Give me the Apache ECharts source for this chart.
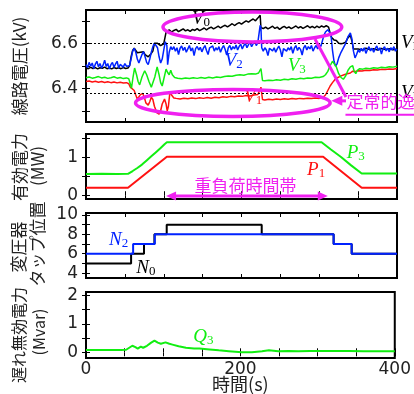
<!DOCTYPE html>
<html><head><meta charset="utf-8">
<script src="https://cdn.jsdelivr.net/npm/echarts@6/dist/echarts.min.js"></script>
<style>html,body{margin:0;padding:0;background:#fff}#c{width:414px;height:394px}</style>
</head><body><div id="c"></div>
<script>
// ---------------- data ----------------
const xLabels = [0, 200, 400];
const vTicks = [6.3, 6.4, 6.5, 6.6, 6.7], vLabels = [6.4, 6.6];
const pTicks = [0, 0.5, 1, 1.5], pLabels = [0, 1];
const nTicks = [4, 5, 6, 7, 8, 9, 10], nLabels = [4, 6, 8, 10];
const qTicks = [0, 0.5, 1, 1.5, 2], qLabels = [0, 1, 2];
const vLimits = [6.6, 6.38];

// line voltage V0 (black)
const V0 = [[0,6.49],[3,6.487],[6,6.493],[9,6.488],[12,6.492],[15,6.486],[18,6.491],[21,6.489],[24,6.494],[27,6.487],[30,6.49],[33,6.486],[36,6.492],[39,6.488],[42,6.491],[45,6.487],[48,6.492],[51,6.488],[54,6.49],
[56,6.50],[58,6.54],[60,6.568],[62,6.578],[64,6.57],[66,6.558],[68,6.552],[70,6.56],[72,6.566],[74,6.562],[76,6.55],[78,6.545],[80,6.54],[82,6.548],[84,6.555],[86,6.565],[88,6.60],[90,6.607],[92,6.60],[94,6.595],[96,6.59],[98,6.592],[100,6.598],[102,6.602],[103,6.65],[105,6.655],
[107,6.66],[110,6.65],[113,6.657],[116,6.662],[119,6.652],[122,6.658],[125,6.664],[128,6.655],[131,6.66],[134,6.653],[137,6.662],[140,6.657],[143,6.665],[146,6.656],[149,6.662],[152,6.668],[155,6.66],[158,6.667],[161,6.672],[164,6.664],[167,6.67],[170,6.676],[173,6.668],[176,6.675],[179,6.68],[182,6.673],[185,6.68],[188,6.687],[191,6.679],[194,6.686],[197,6.692],[200,6.685],[203,6.693],[206,6.7],[209,6.694],[212,6.702],[215,6.708],[218,6.70],[221,6.712],[223,6.718],[224,6.725],[225,6.67],
[228,6.665],[231,6.672],[234,6.664],[237,6.67],[240,6.676],[243,6.666],[246,6.672],[249,6.662],[252,6.67],[255,6.675],[258,6.667],[261,6.673],[264,6.665],[267,6.671],[270,6.677],[273,6.668],[276,6.674],[279,6.666],[282,6.672],[285,6.678],[288,6.669],[291,6.675],[294,6.668],[297,6.676],[300,6.67],[303,6.677],[306,6.672],[309,6.678],[312,6.672],
[314,6.645],[316,6.625],[319,6.615],[322,6.612],[325,6.60],[328,6.598],[331,6.60],[334,6.605],[337,6.625],[340,6.635],[342,6.61],[344,6.575],[346,6.572],
[350,6.575],[355,6.57],[360,6.578],[365,6.572],[370,6.576],[375,6.57],[380,6.577],[385,6.572],[390,6.576],[395,6.571],[400,6.575]];

// line voltage V2 (blue)
const V2 = [[0,6.505],[2,6.492],[4,6.515],[6,6.498],[8,6.512],[10,6.488],[12,6.507],[14,6.52],[16,6.495],[18,6.51],[20,6.49],[22,6.503],[24,6.525],[26,6.497],[28,6.51],[30,6.486],[32,6.505],[34,6.515],[36,6.493],[38,6.508],[40,6.52],[42,6.49],[44,6.506],[46,6.512],[48,6.494],[50,6.51],[52,6.498],[54,6.505],
[56,6.50],[58,6.53],[60,6.565],[62,6.578],[64,6.56],[66,6.53],[68,6.512],[70,6.52],[72,6.55],[74,6.563],[76,6.54],[78,6.515],[80,6.505],[82,6.53],[84,6.56],[86,6.585],[88,6.60],[90,6.605],[92,6.58],[94,6.54],[96,6.512],[98,6.53],[100,6.57],[102,6.607],[104,6.59],[105,6.505],[107,6.56],[109,6.585],
[111,6.572],[113,6.585],[115,6.565],[117,6.58],[119,6.55],[121,6.578],[123,6.588],[125,6.568],[127,6.582],[129,6.56],[131,6.575],[133,6.59],[135,6.566],[137,6.58],[139,6.545],[141,6.576],[143,6.586],[145,6.57],[147,6.582],[149,6.562],[151,6.578],[153,6.59],[155,6.568],[157,6.55],[159,6.58],[161,6.572],[163,6.588],[165,6.565],[167,6.58],[169,6.57],[171,6.585],[173,6.56],[175,6.578],[177,6.59],[179,6.572],[181,6.548],[183,6.58],[185,6.59],[187,6.57],[189,6.585],[191,6.575],[193,6.592],[195,6.57],[197,6.586],[199,6.596],[201,6.575],[203,6.59],[205,6.6],[207,6.58],[209,6.594],[211,6.605],[213,6.585],[215,6.598],[217,6.61],[219,6.59],[221,6.603],[223,6.605],[224,6.68],[225,6.67],[226,6.58],
[228,6.565],[230,6.58],[232,6.57],[234,6.545],[236,6.578],[238,6.586],[240,6.566],[242,6.58],[244,6.56],[246,6.575],[248,6.588],[250,6.57],[252,6.54],[254,6.576],[256,6.584],[258,6.565],[260,6.58],[262,6.57],[264,6.585],[266,6.555],[268,6.578],[270,6.59],[272,6.568],[274,6.582],[276,6.572],[278,6.548],[280,6.58],[282,6.59],[284,6.57],[286,6.585],[288,6.575],[290,6.59],[292,6.565],[294,6.58],[296,6.59],[298,6.575],[300,6.594],[302,6.585],[304,6.61],
[306,6.635],[308,6.65],[311,6.66],[313,6.668],[315,6.64],[317,6.57],[319,6.52],[321,6.498],[323,6.51],[325,6.535],[328,6.56],[331,6.58],[334,6.60],[337,6.63],[340,6.646],[342,6.62],[344,6.565],[346,6.535],[348,6.55],[350,6.57],
[352,6.56],[354,6.578],[356,6.565],[358,6.58],[360,6.555],[362,6.572],[364,6.585],[366,6.566],[368,6.578],[370,6.56],[372,6.576],[374,6.588],[376,6.568],[378,6.58],[380,6.552],[382,6.575],[384,6.585],[386,6.566],[388,6.578],[390,6.562],[392,6.58],[394,6.57],[396,6.585],[398,6.565],[400,6.575]];

// line voltage V1 (red)
const V1 = [[0,6.43],[4,6.432],[8,6.428],[12,6.431],[16,6.427],[20,6.43],[24,6.426],[28,6.429],[32,6.425],[36,6.428],[40,6.424],[44,6.427],[48,6.423],[52,6.425],[55,6.42],
[57,6.405],[59,6.398],[62,6.39],[64,6.37],[66,6.352],[68,6.358],[70,6.372],[73,6.377],[75,6.36],[77,6.335],[80,6.325],[82,6.34],[84,6.36],[86,6.35],[88,6.32],[91,6.292],[94,6.285],[96,6.30],[98,6.33],[101,6.352],[103,6.33],[104.5,6.30],[106,6.32],[108,6.385],[110,6.37],[113,6.357],
[116,6.355],[121,6.352],[126,6.356],[131,6.353],[136,6.357],[141,6.354],[146,6.358],[151,6.355],[156,6.359],[161,6.356],[166,6.36],[171,6.358],[176,6.362],[181,6.36],[186,6.364],[191,6.362],[196,6.366],[201,6.364],[206,6.368],[211,6.366],[216,6.37],[221,6.372],[223,6.375],[224,6.395],[225,6.405],[226,6.40],[227,6.35],
[230,6.348],[235,6.351],[240,6.349],[245,6.352],[250,6.35],[255,6.353],[260,6.351],[265,6.354],[270,6.352],[275,6.355],[280,6.353],[285,6.356],[290,6.354],[295,6.357],[300,6.355],[305,6.36],
[308,6.37],[311,6.39],[314,6.41],[317,6.425],[320,6.438],[324,6.448],[328,6.455],[332,6.46],[336,6.465],[340,6.468],[343,6.476],[345,6.482],[347,6.475],[350,6.478],
[355,6.477],[360,6.48],[365,6.479],[370,6.482],[375,6.481],[380,6.484],[385,6.483],[390,6.486],[395,6.485],[400,6.488]];

// line voltage V3 (green)
const V3 = [[0,6.447],[4,6.45],[8,6.445],[12,6.448],[16,6.452],[20,6.446],[24,6.449],[28,6.444],[32,6.447],[36,6.451],[40,6.445],[44,6.448],[48,6.443],[52,6.446],[55,6.442],
[57,6.42],[58.5,6.40],[60.5,6.45],[62.5,6.49],[65,6.46],[67,6.43],[69,6.415],[72,6.45],[75.5,6.478],[78,6.46],[81,6.43],[84,6.405],[86,6.40],[88.5,6.45],[91.5,6.495],[94,6.46],[96,6.425],[98,6.41],[100,6.44],[103,6.485],[105,6.47],[107,6.46],[109,6.48],[111,6.46],[114,6.448],
[118,6.445],[123,6.442],[128,6.446],[133,6.443],[138,6.447],[143,6.444],[148,6.448],[153,6.445],[158,6.449],[163,6.446],[168,6.45],[173,6.448],[178,6.452],[183,6.455],[188,6.453],[193,6.458],[198,6.46],[203,6.458],[208,6.463],[213,6.465],[218,6.463],[222,6.468],[224,6.47],[225,6.488],[226,6.485],[227,6.435],
[230,6.433],[235,6.436],[240,6.434],[245,6.438],[250,6.436],[255,6.44],[260,6.438],[265,6.442],[270,6.44],[275,6.444],[280,6.442],[285,6.446],[290,6.445],[295,6.449],[300,6.448],[305,6.452],
[308,6.46],[311,6.475],[314,6.50],[317,6.52],[319,6.525],[322,6.495],[325,6.465],[328,6.448],[331,6.44],[334,6.455],[337,6.48],[340,6.495],[343,6.50],[345,6.475],[347,6.465],[349,6.48],[352,6.487],
[356,6.485],[360,6.489],[365,6.487],[370,6.491],[375,6.489],[380,6.493],[385,6.491],[390,6.496],[395,6.494],[400,6.498]];

// active power
const P3 = [[0,0.56],[20,0.565],[40,0.56],[54,0.565],[60,0.64],[66,0.72],[72,0.81],[78,0.92],[84,1.03],[90,1.14],[96,1.25],[101,1.35],[104,1.40],[150,1.405],[200,1.40],[250,1.405],[303,1.40],[315,1.21],[328,1.01],[341,0.79],[354.6,0.575],[400,0.575]];
const P1 = [[0,0.2],[54,0.2],[104,1.02],[305,1.02],[354.6,0.2],[400,0.2]];

// tap positions (value holds from t until next point)
const N0 = [[0,5],[58,6],[74.6,7],[88,8],[103.8,9],[226,8],[318.5,7],[341.7,6],[400,6]];
const N2 = [[0,6],[60.6,7],[88.5,8],[318.5,7],[341.7,6],[400,6]];

// lagging reactive power
const Q3 = [[0,0.08],[15,0.085],[30,0.08],[45,0.085],[52,0.09],[56,0.16],[60,0.23],[64,0.18],[67,0.13],[71,0.2],[74,0.16],[79,0.23],[84,0.33],[88.7,0.41],[93,0.34],[97,0.30],[103,0.35],[108,0.3],[112,0.27],[120,0.21],[129.5,0.16],[140,0.13],[147,0.13],[160,0.1],[172,0.07],[185,0.04],[202,0.0],[215,0.0],[228,0.04],[237,0.07],[249,0.04],[262,0.05],[275,0.04],[290,0.05],[318,0.05],[340,0.045],[360,0.04],[380,0.04],[400,0.035]];

// ---------------- chart ----------------
const BLACK = '#000', BLUE = '#0022ff', RED = '#ff1111', GREEN = '#11ee11', MAG = '#f020f0';
const LBL = {fontSize: 17, fontFamily: 'DejaVu Sans', color: '#222'};
const grids = [
  {left: 86, top: 10, width: 311, height: 112},
  {left: 86, top: 134, width: 311, height: 65},
  {left: 86, top: 213, width: 311, height: 65},
  {left: 86, top: 292, width: 311, height: 66}
].map(g => Object.assign(g, {show: true, borderColor: '#000', borderWidth: 2, backgroundColor: 'transparent'}));

const tick = {inside: true, length: 4, lineStyle: {color: '#000', width: 1}};
const xAxis = [], yAxis = [];
for (let g = 0; g < 4; g++) {
  const base = {type: 'value', gridIndex: g, min: 0, max: 400, interval: 50, axisLine: {show: false}, splitLine: {show: false}, axisTick: tick};
  xAxis.push(Object.assign({}, base, {position: 'bottom',
    axisLabel: g === 3 ? Object.assign({customValues: xLabels, margin: 3}, LBL) : {show: false}}));
  xAxis.push(Object.assign({}, base, {position: 'top', axisLabel: {show: false}}));
}
function yPair(g, min, max, ticks, labels) {
  const base = {type: 'value', gridIndex: g, min, max, axisLine: {show: false}, splitLine: {show: false},
    axisTick: Object.assign({customValues: ticks}, tick)};
  yAxis.push(Object.assign({}, base, {position: 'left', axisLabel: Object.assign({customValues: labels, margin: 8}, LBL)}));
  yAxis.push(Object.assign({}, base, {position: 'right', axisLabel: {show: false}}));
}
yPair(0, 6.25, 6.748, vTicks, vLabels);
yPair(1, -0.1, 1.62, pTicks, pLabels);
yPair(2, 3.5, 10.2, nTicks, nLabels);
yPair(3, -0.2, 2.12, qTicks, qLabels);

function line(name, g, data, color, width, extra) {
  return Object.assign({name, type: 'line', xAxisIndex: 2 * g, yAxisIndex: 2 * g, data, showSymbol: false, symbol: 'none',
    lineStyle: {color, width}, itemStyle: {color}, clip: true, silent: true}, extra || {});
}
const subRich = col => ({
  a: {fontFamily: 'Liberation Serif', fontStyle: 'italic', fontSize: 19, lineHeight: 20, color: col},
  b: {fontFamily: 'Liberation Serif', fontSize: 13, lineHeight: 10, verticalAlign: 'bottom', color: col}
});

const series = [
  line('V0', 0, V0, BLACK, 1.5, {markLine: {silent: true, symbol: 'none', animation: false,
    lineStyle: {color: '#000', width: 1, type: [2, 2]},
    label: {position: 'end', distance: 4, rich: subRich('#000')},
    data: [
      {yAxis: vLimits[0], label: {formatter: '{a|V}{b|H}'}},
      {yAxis: vLimits[1], label: {formatter: '{a|V}{b|L}'}}
    ]}}),
  line('V2', 0, V2, BLUE, 1.5),
  line('V1', 0, V1, RED, 1.5),
  line('V3', 0, V3, GREEN, 1.5),
  line('P3', 1, P3, GREEN, 2),
  line('P1', 1, P1, RED, 2),
  line('N0', 2, N0, BLACK, 2, {step: 'end'}),
  line('N2', 2, N2, BLUE, 2, {step: 'end'}),
  line('Q3', 3, Q3, GREEN, 2)
];

const chart = echarts.init(document.getElementById('c'), null, {renderer: 'canvas'});
chart.setOption({animation: false, backgroundColor: '#fff', grid: grids, xAxis, yAxis, series});

// ---------------- annotations ----------------
const P = (g, t, v) => chart.convertToPixel({xAxisIndex: 2 * g, yAxisIndex: 2 * g}, [t, v]);
function subLabel(g, t, v, a, b, col) {
  const p = P(g, t, v);
  return {type: 'text', x: p[0], y: p[1], z: 50, style: {text: '{a|' + a + '}{b|' + b + '}', align: 'center', verticalAlign: 'middle',
    rich: {a: {fontFamily: 'Liberation Serif', fontStyle: 'italic', fontSize: 19, lineHeight: 20, fill: col},
           b: {fontFamily: 'Liberation Serif', fontSize: 13, lineHeight: 10, verticalAlign: 'bottom', fill: col}}}};
}
function vText(x, y, text, size) {
  return {type: 'text', x, y, rotation: Math.PI / 2, z: 50,
    style: {text, fontFamily: 'Noto Sans CJK JP', fontSize: size, fill: '#222', align: 'center', verticalAlign: 'middle'}};
}
function ellipse(g, t0, t1, vTop, vBot) {
  const a = P(g, t0, vTop), b = P(g, t1, vBot);
  return {type: 'ellipse', z: 60, shape: {cx: (a[0] + b[0]) / 2, cy: (a[1] + b[1]) / 2, rx: (b[0] - a[0]) / 2, ry: (b[1] - a[1]) / 2},
    style: {fill: 'none', stroke: MAG, lineWidth: 3.5}};
}
function seg(p, q, w) {
  return {type: 'line', z: 60, shape: {x1: p[0], y1: p[1], x2: q[0], y2: q[1]}, style: {stroke: MAG, lineWidth: w}};
}
function head(tip, dir, len, half) {
  // dir: unit vector pointing toward tip
  const bx = tip[0] - dir[0] * len, by = tip[1] - dir[1] * len;
  return {type: 'polygon', z: 61, shape: {points: [tip, [bx - dir[1] * half, by + dir[0] * half], [bx + dir[1] * half, by - dir[0] * half]]},
    style: {fill: MAG}};
}

const g = [];
// axis titles
g.push(vText(20, 66, '線路電圧(kV)', 17));
g.push(vText(20, 167, '有効電力', 17));
g.push(vText(38, 166, '(MW)', 17));
g.push(vText(19, 247, '変圧器', 17));
g.push(vText(38, 244, 'タップ位置', 17));
g.push(vText(19, 335, '遅れ無効電力', 16));
g.push(vText(39, 332, '(Mvar)', 16));
const xt = P(3, 200, 0);
g.push({type: 'text', x: xt[0], y: 384, z: 50, style: {text: '時間(s)', fontFamily: 'Noto Sans CJK JP', fontSize: 18, fill: '#222', align: 'center', verticalAlign: 'middle'}});

// series labels
g.push(subLabel(0, 148, 6.708, 'V', '0', BLACK));
g.push(subLabel(0, 190, 6.521, 'V', '2', BLUE));
g.push(subLabel(0, 271, 6.499, 'V', '3', GREEN));
g.push(subLabel(0, 215, 6.361, 'V', '1', RED));
g.push(subLabel(1, 296, 0.66, 'P', '1', RED));
g.push(subLabel(1, 347, 1.11, 'P', '3', GREEN));
g.push(subLabel(2, 42, 7.38, 'N', '2', BLUE));
g.push(subLabel(2, 77, 4.48, 'N', '0', BLACK));
g.push(subLabel(3, 152, 0.55, 'Q', '3', GREEN));

// ellipses and steady-deviation note
g.push(ellipse(0, 99, 329, 6.739, 6.606));
g.push(ellipse(0, 63.7, 314, 6.395, 6.275));
const a0 = P(0, 294.5, 6.619), a1 = P(0, 334.4, 6.361);
g.push(seg(a0, a1, 3));
const b0 = P(0, 334.4, 6.344), b1 = P(0, 315.5, 6.344);
g.push(seg(b0, [b1[0] + 8, b1[1]], 3));
g.push(head(b1, [-1, 0], 11, 5));
const nt = P(0, 335, 6.34);
g.push({type: 'text', x: nt[0], y: nt[1], z: 62, style: {text: '定常的逸脱', fontFamily: 'Noto Sans CJK JP', fontSize: 17, fill: MAG, align: 'left', verticalAlign: 'middle'}});
g.push({type: 'line', z: 62, shape: {x1: nt[0] - 1, y1: nt[1] + 13, x2: 414, y2: nt[1] + 13}, style: {stroke: MAG, lineWidth: 2}});

// heavy-load period double arrow
const h0 = P(1, 103, -0.02), h1 = P(1, 311, -0.02);
g.push(seg([h0[0] + 8, h0[1]], [h1[0] - 8, h1[1]], 3));
g.push(head(h0, [-1, 0], 10, 4.5));
g.push(head(h1, [1, 0], 10, 4.5));
const ht = P(1, 205, 0.265);
g.push({type: 'text', x: ht[0], y: ht[1], z: 62, style: {text: '重負荷時間帯', fontFamily: 'Noto Sans CJK JP', fontSize: 17, fill: MAG, align: 'center', verticalAlign: 'middle'}});

chart.setOption({graphic: g});
</script>
</body></html>
